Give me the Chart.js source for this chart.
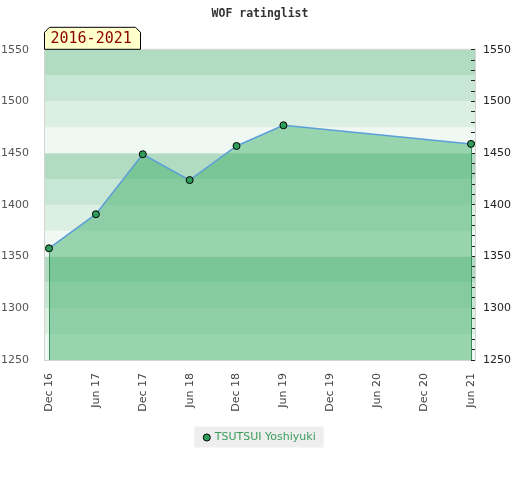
<!DOCTYPE html>
<html>
<head>
<meta charset="utf-8">
<script src="https://cdn.jsdelivr.net/npm/chart.js@4/dist/chart.umd.min.js"></script>
<style>
  body { margin: 0; background: #fff; }
</style>
</head>
<body>
<canvas id="chart" width="520" height="480"></canvas>
<script>
const months = ['Dec 16', 'Jun 17', 'Dec 17', 'Jun 18', 'Dec 18', 'Jun 19', 'Dec 19', 'Jun 20', 'Dec 20', 'Jun 21'];
const ratings = [1358, 1391, 1449, 1424, 1457, 1477, null, null, null, 1459];
const yMin = 1250;
const yMax = 1550;
const playerName = 'TSUTSUI Yoshiyuki';
const periodLabel = '2016-2021';
const chartTitle = 'WOF ratinglist';

const bandColors = ['#eff8f2', '#dcefe3', '#c8e6d4', '#b2dcc2'];
const font = { family: 'DejaVu Sans', size: 11 };

// background stripes every 25 points + plot frame + legend box
const background = {
  id: 'background',
  beforeDraw(chart) {
    const { ctx, chartArea: a, scales: { y } } = chart;
    ctx.save();
    let i = 0;
    for (let v = y.min; v < y.max; v += 25, i++) {
      const top = y.getPixelForValue(v + 25), bot = y.getPixelForValue(v);
      ctx.fillStyle = bandColors[i % 4];
      ctx.fillRect(a.left, top, a.right - a.left, bot - top);
    }
    ctx.strokeStyle = '#d4d4d4';
    ctx.lineWidth = 1;
    ctx.strokeRect(a.left - 0.5, a.top - 0.5, a.right - a.left + 1, a.bottom - a.top + 1);

    const hb = chart.legend.legendHitBoxes[0];
    if (hb) {
      ctx.fillStyle = '#eeeeee';
      ctx.fillRect(hb.left - 10, hb.top + hb.height / 2 - 11, hb.width + 18, 21);
    }
    ctx.restore();
  },
  afterDatasetsDraw(chart) {
    const { ctx, chartArea: a } = chart;
    const pts = chart.getDatasetMeta(0).data;
    ctx.save();
    ctx.strokeStyle = '#3a8f5a';
    ctx.lineWidth = 1;
    [pts[0], pts[pts.length - 1]].forEach(p => {
      const x = Math.round(p.x) + 0.5;
      ctx.beginPath();
      ctx.moveTo(x, p.y + 4);
      ctx.lineTo(x, a.bottom);
      ctx.stroke();
    });
    ctx.restore();
  },
  afterDraw(chart) {
    const { ctx, chartArea: a } = chart;
    const l = a.left - 0.5, r = a.left + 95.5, t = a.top - 22.5, b = a.top - 0.5, c = 5;
    ctx.save();
    ctx.beginPath();
    ctx.moveTo(l, b);
    ctx.lineTo(l, t + c);
    ctx.lineTo(l + c, t);
    ctx.lineTo(r - c, t);
    ctx.lineTo(r, t + c);
    ctx.lineTo(r, b);
    ctx.closePath();
    ctx.fillStyle = '#ffffcc';
    ctx.fill();
    ctx.strokeStyle = '#000';
    ctx.lineWidth = 1;
    ctx.stroke();
    ctx.fillStyle = '#8b0000';
    ctx.font = '15px "DejaVu Sans Mono"';
    ctx.textBaseline = 'middle';
    ctx.fillText(periodLabel, l + 6, (t + b) / 2 + 1);
    ctx.restore();
  }
};

const points = ratings.map((v, i) => ({ x: i, y: v })).filter(p => p.y !== null);

new Chart(document.getElementById('chart'), {
  type: 'line',
  data: {
    datasets: [{
      label: playerName,
      data: points,
      borderColor: '#5b9fd8',
      borderWidth: 1.5,
      backgroundColor: 'rgba(72, 178, 112, 0.52)',
      fill: 'start',
      tension: 0,
      pointRadius: 3.5,
      pointBackgroundColor: '#2f9e5c',
      pointBorderColor: '#000',
      pointBorderWidth: 1
    }]
  },
  options: {
    responsive: false,
    animation: false,
    layout: { padding: { left: 0, right: 0, top: 0, bottom: 27 } },
    scales: {
      x: {
        type: 'linear',
        min: -0.085,
        max: months.length - 1 + 0.085,
        afterBuildTicks: s => { s.ticks = months.map((m, i) => ({ value: i })); },
        afterFit: s => { s.height = 62; },
        grid: { display: false },
        border: { display: false },
        ticks: {
          autoSkip: false,
          minRotation: 90,
          maxRotation: 90,
          padding: 5,
          color: '#444',
          font,
          callback: v => months[v]
        }
      },
      y: {
        position: 'left',
        min: yMin,
        max: yMax,
        afterFit: s => { s.width = 45; },
        grid: { display: false },
        border: { display: false },
        ticks: { stepSize: 50, padding: 8, color: '#555', font, callback: v => String(v) }
      },
      y2: {
        position: 'right',
        min: yMin,
        max: yMax,
        afterFit: s => { s.width = 45; },
        grid: { drawOnChartArea: false, drawTicks: true, tickLength: -4, color: '#222' },
        border: { display: false },
        ticks: {
          stepSize: 10,
          autoSkip: false,
          padding: 12,
          color: '#222',
          font,
          callback: v => (v % 50 === 0 ? String(v) : '')
        }
      }
    },
    plugins: {
      title: {
        display: true,
        text: chartTitle,
        color: '#333',
        font: { family: 'DejaVu Sans Mono', size: 11.5, weight: 'bold' },
        padding: { top: 7, bottom: 29 }
      },
      legend: {
        position: 'bottom',
        labels: {
          usePointStyle: true,
          pointStyle: 'circle',
          boxHeight: 5,
          boxWidth: 5,
          color: '#3a9d5d',
          font,
          padding: 10
        }
      },
      tooltip: { enabled: false }
    }
  },
  plugins: [background]
});
</script>
</body>
</html>
